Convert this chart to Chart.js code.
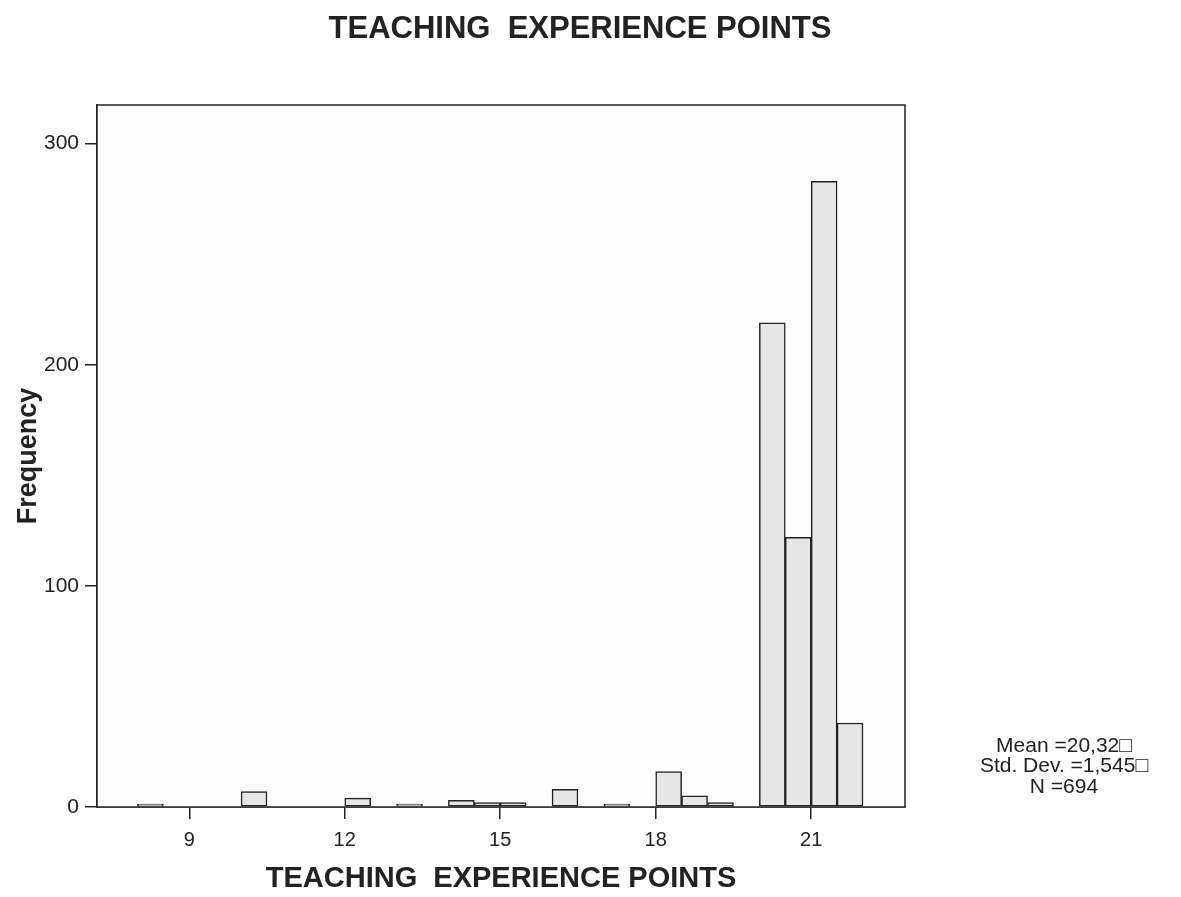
<!DOCTYPE html>
<html>
<head>
<meta charset="utf-8">
<script src="https://cdn.jsdelivr.net/npm/chart.js@4/dist/chart.umd.min.js"></script>
<style>
html,body{margin:0;padding:0;background:#fff;}
#wrap{width:1181px;height:897px;position:relative;}
</style>
</head>
<body>
<div id="wrap"><canvas id="c" width="1181" height="897"></canvas></div>
<script>
// Data (bin centres, bin width 0.5)
const binCenters = [8.25, 10.25, 12.25, 13.25, 14.25, 14.75, 15.25, 16.25, 17.25, 18.25, 18.75, 19.25, 20.25, 20.75, 21.25, 21.75];
const frequencies = [1, 7, 4, 1, 3, 2, 2, 8, 1, 16, 5, 2, 219, 122, 283, 38];
const xTickValues = [9, 12, 15, 18, 21];
const yTickValues = [0, 100, 200, 300];
const chartTitle = 'TEACHING  EXPERIENCE POINTS';
const xTitle = 'TEACHING  EXPERIENCE POINTS';
const yTitle = 'Frequency';
const statsLines = ['Mean =20,32\u25A1', 'Std. Dev. =1,545\u25A1', 'N =694'];

const FONT = '"Liberation Sans", Arial, sans-serif';

const points = binCenters.map((x, i) => ({x: x, y: frequencies[i]}));

const framePlugin = {
  id: 'frame',
  beforeDatasetsDraw(chart) {
    const {ctx, chartArea: a} = chart;
    ctx.save();
    ctx.fillStyle = '#fcfcfc';
    ctx.fillRect(a.left, a.top, a.right - a.left, a.bottom - a.top);
    ctx.restore();
  },
  afterDatasetsDraw(chart) {
    const {ctx, chartArea: a} = chart;
    ctx.save();
    ctx.strokeStyle = '#222';
    ctx.lineWidth = 1.5;
    ctx.strokeRect(a.left, a.top, a.right - a.left, a.bottom - a.top);
    ctx.restore();
  },
  afterDraw(chart) {
    const {ctx} = chart;
    ctx.save();
    ctx.fillStyle = '#222';
    ctx.textAlign = 'center';
    ctx.textBaseline = 'middle';
    ctx.font = 'bold 31px ' + FONT;
    ctx.fillText(chartTitle, 580, 29);
    ctx.font = '21px ' + FONT;
    statsLines.forEach((t, i) => ctx.fillText(t, 1064, 746 + i * 20.5));
    ctx.restore();
  }
};

new Chart(document.getElementById('c'), {
  type: 'bar',
  data: {
    datasets: [{
      data: points,
      backgroundColor: '#e6e6e6',
      borderColor: '#222',
      borderWidth: 1.5,
      borderSkipped: false,
      minBarLength: 3,
      barPercentage: 1,
      categoryPercentage: 1
    }]
  },
  options: {
    responsive: false,
    animation: false,
    layout: {padding: {left: 0, right: 276, top: 105, bottom: 0}},
    plugins: {
      legend: {display: false},
      tooltip: {enabled: false},
      title: {display: false}
    },
    scales: {
      x: {
        type: 'linear',
        min: 7.22,
        max: 22.81,
        offset: false,
        afterBuildTicks(scale) { scale.ticks = xTickValues.map(v => ({value: v})); },
        afterFit(scale) { scale.height = 90; },
        grid: {display: true, offset: false, drawOnChartArea: false, drawTicks: true, tickLength: 12, color: '#222', lineWidth: 1.5},
        border: {display: true, color: '#222', width: 1.5},
        ticks: {color: '#222', font: {family: FONT, size: 20}, padding: 9, maxRotation: 0},
        title: {display: true, text: xTitle, color: '#222', font: {family: FONT, size: 29, weight: 'bold'}, padding: {top: 4, bottom: 1}}
      },
      y: {
        type: 'linear',
        min: 0,
        max: 317.5,
        afterBuildTicks(scale) { scale.ticks = yTickValues.map(v => ({value: v})); },
        afterFit(scale) { scale.width = 97; },
        grid: {display: true, offset: false, drawOnChartArea: false, drawTicks: true, tickLength: 12, color: '#222', lineWidth: 1.5},
        border: {display: true, color: '#222', width: 1.5},
        ticks: {color: '#222', font: {family: FONT, size: 21}, padding: 6},
        title: {display: true, text: yTitle, color: '#222', font: {family: FONT, size: 27, weight: 'bold'}, padding: {top: 12, bottom: 0}}
      }
    }
  },
  plugins: [framePlugin]
});
</script>
</body>
</html>
